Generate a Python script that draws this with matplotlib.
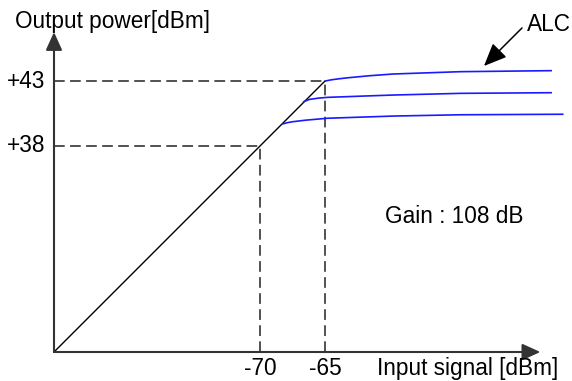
import numpy as np
import matplotlib.pyplot as plt

plt.rcParams['font.family'] = ['Liberation Sans', 'DejaVu Sans']

# values (dBm)
gain_db = 108
x_origin, y_origin = -86, 22
x_arrow_end, y_arrow_end = -48.3, 46.8
x_ticks = [-70, -65]
y_ticks = [38, 43]
y_tick_labels = ['+38', '+43']
x_tick_labels = ['-70', '-65']

# ALC limited output curves (input dBm, output dBm)
alc_x = [
    [-65.0, -64.5, -63.9, -63.3, -61.5, -59.7, -54.5, -47.4],
    [-66.7, -66.2, -65.5, -64.8, -62.0, -59.7, -54.5, -47.4],
    [-68.3, -67.9, -67.5, -66.5, -64.8, -59.7, -54.5, -46.5],
]
alc_y = [
    [43.0, 43.10, 43.18, 43.25, 43.42, 43.55, 43.73, 43.81],
    [41.38, 41.58, 41.68, 41.74, 41.84, 41.92, 42.05, 42.10],
    [39.67, 39.78, 39.85, 39.97, 40.12, 40.29, 40.39, 40.43],
]

px_per_db = 12.9
ox_px, oy_px = 54, 352
W, H = 572, 381

fig = plt.figure(figsize=(W / 100, H / 100), dpi=100)
ax = fig.add_axes([0, 0, 1, 1])
ax.set_xlim(x_origin - ox_px / px_per_db, x_origin + (W - ox_px) / px_per_db)
ax.set_ylim(y_origin - (H - oy_px) / px_per_db, y_origin + oy_px / px_per_db)
ax.axis('off')

axis_col = '#333333'
arrow = dict(arrowstyle='-|>,head_length=0.55,head_width=0.25', mutation_scale=20,
             lw=1.5, color=axis_col, shrinkA=0, shrinkB=0)
ax.annotate('', xy=(x_origin, y_arrow_end), xytext=(x_origin, y_origin), arrowprops=arrow)
ax.annotate('', xy=(x_arrow_end, y_origin), xytext=(x_origin, y_origin), arrowprops=arrow)

# linear region: output = input + gain
lin_x = np.array([x_origin, x_ticks[1]])
ax.plot(lin_x, lin_x + gain_db, color='black', lw=1.0)

# dashed guides
dash = dict(color='#222222', lw=1.1, ls=(0, (7, 3.5)))
for xv, yv in zip(x_ticks, y_ticks):
    ax.plot([x_origin, xv], [yv, yv], **dash)
    ax.plot([xv, xv], [y_origin, yv], **dash)

for xs, ys in zip(alc_x, alc_y):
    ax.plot(xs, ys, color='#1a1aff', lw=1.2, solid_capstyle='butt', solid_joinstyle='round')

fs = 16.3
for yv, lab in zip(y_ticks, y_tick_labels):
    ax.text(x_origin - 0.7, yv, lab, fontsize=fs, ha='right', va='center')
for xv, lab in zip(x_ticks, x_tick_labels):
    ax.text(xv, y_origin - 0.4, lab, fontsize=fs, ha='center', va='top')

ax.text(-89.0, 47.6, 'Output power[dBm]', fontsize=fs, ha='left', va='center')
ax.text(-61.0, y_origin - 0.4, 'Input signal [dBm]', fontsize=fs, ha='left', va='top')
ax.text(-60.35, 32.5, 'Gain : 108 dB', fontsize=fs, ha='left', va='center')
ax.text(-49.3, 47.35, 'ALC', fontsize=fs, ha='left', va='center')
ax.annotate('', xy=(-52.67, 44.17), xytext=(-49.72, 47.12),
            arrowprops=dict(arrowstyle='-|>,head_length=0.7,head_width=0.3', mutation_scale=20,
                            lw=1.1, color='black', shrinkA=0, shrinkB=0))

fig.savefig('out.png', dpi=100)
